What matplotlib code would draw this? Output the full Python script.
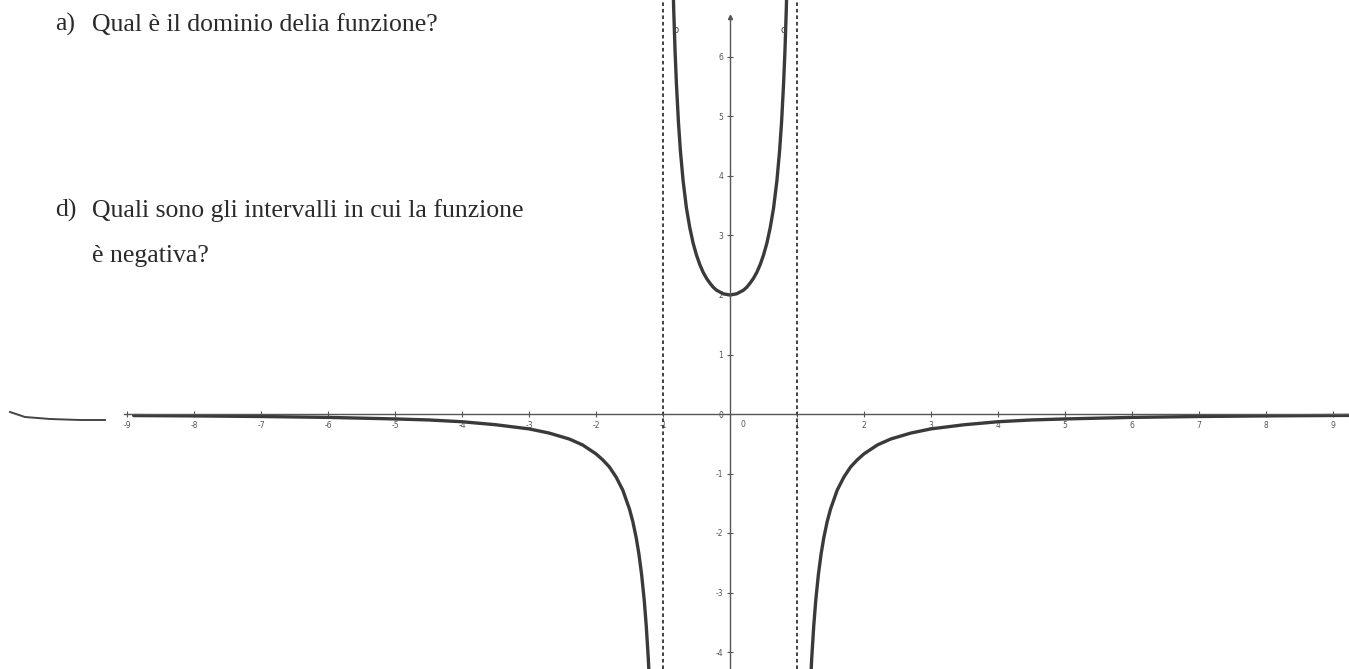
import matplotlib
matplotlib.use("Agg")
import matplotlib.pyplot as plt
from matplotlib.lines import Line2D

# ---- data ----
upper_x = [-0.86, -0.84, -0.82, -0.80, -0.77, -0.74, -0.70, -0.65, -0.60, -0.55, -0.50,
           -0.45, -0.40, -0.35, -0.30, -0.25, -0.20, -0.15, -0.10, -0.05, 0.0,
           0.05, 0.10, 0.15, 0.20, 0.25, 0.30, 0.35, 0.40, 0.45, 0.50,
           0.55, 0.60, 0.65, 0.70, 0.74, 0.77, 0.80, 0.82, 0.84, 0.86]
upper_y = [7.68, 6.79, 6.10, 5.56, 4.91, 4.42, 3.92, 3.46, 3.13, 2.87, 2.67,
           2.51, 2.38, 2.28, 2.20, 2.13, 2.08, 2.05, 2.02, 2.01, 2.00,
           2.01, 2.02, 2.05, 2.08, 2.13, 2.20, 2.28, 2.38, 2.51, 2.67,
           2.87, 3.13, 3.46, 3.92, 4.42, 4.91, 5.56, 6.10, 6.79, 7.68]

right_x = [1.18, 1.20, 1.22, 1.25, 1.28, 1.32, 1.36, 1.40, 1.45, 1.50, 1.60, 1.70, 1.80,
           1.90, 2.00, 2.20, 2.40, 2.70, 3.00, 3.50, 4.00, 4.50, 5.00, 6.00, 7.00,
           8.00, 9.00, 9.30]
right_y = [-5.13, -4.55, -4.10, -3.56, -3.13, -2.69, -2.35, -2.08, -1.81, -1.60, -1.28,
           -1.06, -0.89, -0.77, -0.67, -0.52, -0.42, -0.32, -0.25, -0.18, -0.13,
           -0.10, -0.083, -0.057, -0.042, -0.032, -0.025, -0.023]

left_x = [-8.90, -8.00, -7.00, -6.00, -5.00, -4.50, -4.00, -3.50, -3.00, -2.70, -2.40,
          -2.20, -2.00, -1.90, -1.80, -1.70, -1.60, -1.50, -1.45, -1.40, -1.36, -1.32,
          -1.28, -1.25, -1.22, -1.20, -1.18]
left_y = [-0.026, -0.032, -0.042, -0.057, -0.083, -0.10, -0.13, -0.18, -0.25, -0.32,
          -0.42, -0.52, -0.67, -0.77, -0.89, -1.06, -1.28, -1.60, -1.81, -2.08, -2.35,
          -2.69, -3.13, -3.56, -4.10, -4.55, -5.13]

asymptotes = [-1, 1]
x_ticks = [-9, -8, -7, -6, -5, -4, -3, -2, -1, 1, 2, 3, 4, 5, 6, 7, 8, 9]
x_tick_labels = ["-9", "-8", "-7", "-6", "-5", "-4", "-3", "-2", "-1",
                 "1", "2", "3", "4", "5", "6", "7", "8", "9"]
y_ticks = [-4, -3, -2, -1, 0, 1, 2, 3, 4, 5, 6]
y_tick_labels = ["-4", "-3", "-2", "-1", "0", "1", "2", "3", "4", "5", "6"]
question_a = "Qual è il dominio delia funzione?"
question_d1 = "Quali sono gli intervalli in cui la funzione"
question_d2 = "è negativa?"

# ---- figure ----
W, H = 1349, 669
fig = plt.figure(figsize=(W / 100, H / 100), dpi=100)
fig.patch.set_facecolor("white")
ax = fig.add_axes([0, 0, 1, 1])
ax.set_facecolor("white")

x0px, y0px = 730, 414
ux, uy = 67.0, 59.5
ax.set_xlim(-x0px / ux, (W - x0px) / ux)
ax.set_ylim(-(H - y0px) / uy, y0px / uy)

axis_col = "#555555"
curve_col = "#3a3a3a"

# spines as axes through the origin
for s in ["top", "right"]:
    ax.spines[s].set_visible(False)
ax.spines["left"].set_position(("data", 0))
ax.spines["bottom"].set_position(("data", 0))
ax.spines["left"].set_bounds(ax.get_ylim()[0], 6.68)
ax.spines["bottom"].set_bounds(-9.05, ax.get_xlim()[1])
for s in ["left", "bottom"]:
    ax.spines[s].set_color(axis_col)
    ax.spines[s].set_linewidth(1.0)

ax.set_xticks(x_ticks)
ax.set_xticklabels(x_tick_labels)
ax.set_yticks(y_ticks)
ax.set_yticklabels(y_tick_labels)
ax.tick_params(axis="both", direction="inout", length=4, width=0.8, colors=axis_col,
               labelsize=5.5, labelcolor="#555555", pad=3)
ax.text(0.15, -0.1, "0", fontsize=5.5, color="#555555", ha="left", va="top")

# marker at the top of the y axis
ax.plot([0], [6.68], marker="^", markersize=3, color=axis_col, clip_on=False)

# asymptotes
for a in asymptotes:
    ax.axvline(a, color="#333333", lw=1.3, ls=(0, (2.0, 1.6)))

# curve
for xs, ys in [(left_x, left_y), (upper_x, upper_y), (right_x, right_y)]:
    ax.plot(xs, ys, color=curve_col, lw=2.4, solid_capstyle="round")

# small curve labels near top
ax.text(-0.86, 6.45, "b", fontsize=7, color="#444444", ha="left", va="center")
ax.text(0.76, 6.45, "d", fontsize=7, color="#444444", ha="left", va="center")

# question texts
tcol = "#2a2a2a"
fs = 18.5
serif = "Liberation Serif"
fig.text(55 / W, 1 - 31 / H, "a)", fontsize=fs, family=serif, color=tcol,
         ha="left", va="baseline")
fig.text(92 / W, 1 - 31 / H, question_a, fontsize=fs, family=serif, color=tcol,
         ha="left", va="baseline")
fig.text(55 / W, 1 - 217 / H, "d)", fontsize=fs, family=serif, color=tcol,
         ha="left", va="baseline")
fig.text(92 / W, 1 - 217 / H, question_d1, fontsize=fs, family=serif, color=tcol,
         ha="left", va="baseline")
fig.text(92 / W, 1 - 262 / H, question_d2, fontsize=fs, family=serif, color=tcol,
         ha="left", va="baseline")

# stray pen mark on the left
fig.add_artist(Line2D([10 / W, 25 / W, 50 / W, 80 / W, 105 / W],
                      [1 - 412 / H, 1 - 417 / H, 1 - 419 / H, 1 - 420 / H, 1 - 420 / H],
                      color="#444444", lw=1.4))

fig.savefig("out.png", dpi=100, facecolor="white")
